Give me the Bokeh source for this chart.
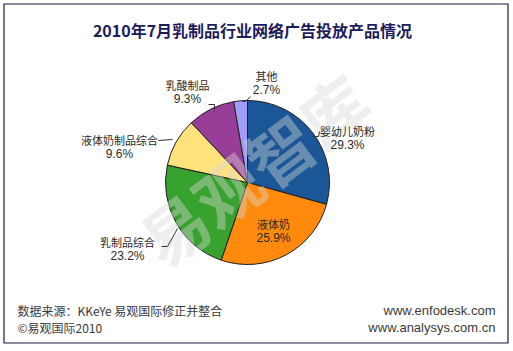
import math
from bokeh.plotting import figure
from bokeh.models import ColumnDataSource, Range1d
from bokeh.core.properties import value
from bokeh.embed import file_html
from bokeh.resources import INLINE

categories = ["婴幼儿奶粉", "液体奶", "乳制品综合", "液体奶制品综合", "乳酸制品", "其他"]
shares = [29.3, 25.9, 23.2, 9.6, 9.3, 2.7]
colors = ["#1B5697", "#FF8A0D", "#37A22E", "#FFE27A", "#993E98", "#A09CF7"]
title_text = "2010年7月乳制品行业网络广告投放产品情况"
source_text = ["数据来源：KKeYe 易观国际修正并整合", "©易观国际2010"]
url_text = ["www.enfodesk.com", "www.analysys.com.cn"]

W, H = 513, 351
FONT = "Noto Sans CJK SC"

p = figure(width=W, height=H, output_backend="svg", toolbar_location=None,
           x_range=Range1d(0, W), y_range=Range1d(0, H), min_border=0)
p.axis.visible = False
p.grid.visible = False
p.outline_line_color = None
p.background_fill_color = "white"
p.border_fill_color = "white"

def Y(py):
    return H - py

# frame border
p.quad(left=[3.5], right=[507.5], bottom=[Y(342.5)], top=[Y(3.5)],
       fill_color=None, line_color="#1A1A40", line_width=1.2)

# pie
total = sum(shares)
cx, cy, r = 247, Y(182), 82
starts, ends = [], []
cum = 0.0
for s in shares:
    starts.append(math.pi / 2 - 2 * math.pi * cum / total)
    cum += s
    ends.append(math.pi / 2 - 2 * math.pi * cum / total)
src = ColumnDataSource(dict(start=starts, end=ends, color=colors, cat=categories))
p.wedge(x=cx, y=cy, radius=r, start_angle="start", end_angle="end",
        direction="clock", fill_color="color", line_color="#202020",
        line_width=1, source=src)

# watermark
p.text(x=[252], y=[Y(168)], text=["易观智库"], angle=math.radians(37),
       text_font=value(FONT), text_font_size="66px", text_font_style="bold",
       text_color="#D6D6D6", text_alpha=0.42, text_align="center",
       text_baseline="middle")

# labels
labels = [
    (347, 130, "center"), (273, 223, "center"), (127, 241, "center"),
    (119, 139, "center"), (187, 84, "center"), (266, 75, "center"),
]
for i, (lx, ly, al) in enumerate(labels):
    p.text(x=[lx], y=[Y(ly)], text=[categories[i]], text_font=value(FONT),
           text_font_size="11px", text_color="#2A2A2A", text_align=al,
           text_baseline="middle")
    p.text(x=[lx], y=[Y(ly + 14)], text=[f"{shares[i]}%"],
           text_font=value("Liberation Sans"), text_font_size="12px",
           text_color="#2A2A2A", text_align=al, text_baseline="middle")

# leader lines
leaders = [
    ([312, 318, 319], [136, 136, 131]),
    ([161, 167, 177], [246, 246, 228]),
    ([158, 172], [140, 139]),
    ([208, 214, 214], [104, 104, 110]),
    ([242, 245, 250], [101, 101, 96]),
]
for xs, ys in leaders:
    p.line(xs, [Y(v) for v in ys], line_color="#333333", line_width=1)

# title
p.text(x=[252], y=[Y(29)], text=[title_text], text_font=value(FONT),
       text_font_size="16px", text_font_style="bold", text_color="#1C1C5C",
       text_align="center", text_baseline="middle")

# footer
for i, t in enumerate(source_text):
    p.text(x=[17], y=[Y(310 + i * 17)], text=[t], text_font=value(FONT),
           text_font_size="12px", text_color="#3A3A3A", text_align="left",
           text_baseline="middle")
for i, t in enumerate(url_text):
    p.text(x=[495], y=[Y(310 + i * 17)], text=[t], text_font=value("Liberation Sans"),
           text_font_size="13px", text_color="#3A3A3A", text_align="right",
           text_baseline="middle")

open("out.html", "w").write(file_html(p, INLINE))
